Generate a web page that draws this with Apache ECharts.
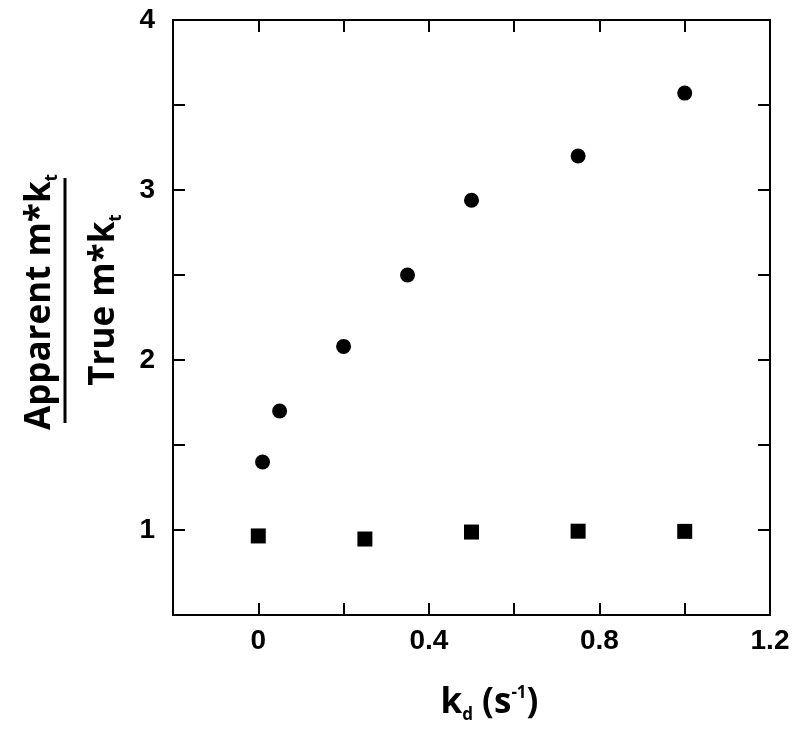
<!DOCTYPE html>
<html>
<head>
<meta charset="utf-8">
<script src="https://cdn.jsdelivr.net/npm/echarts@6/dist/echarts.min.js"></script>
<style>
  html, body { margin: 0; padding: 0; background: #fff; }
  #main { width: 800px; height: 740px; }
</style>
</head>
<body>
<div id="main"></div>
<script>
// apparent / true ratio, circles
const circleKd = [0.01, 0.05, 0.2, 0.35, 0.5, 0.75, 1.0];
const circleRatio = [1.40, 1.70, 2.08, 2.50, 2.94, 3.20, 3.57];
// squares
const squareKd = [0, 0.25, 0.5, 0.75, 1.0];
const squareRatio = [0.965, 0.947, 0.988, 0.993, 0.992];

const xTickLabels = [0, 0.4, 0.8, 1.2];
const yTickLabels = [1, 2, 3, 4];

const tickFont = '"Liberation Sans", Arial, sans-serif';
const titleFont = '"Open Sans", "Noto Sans", sans-serif';

function pick(list) {
  return function (v) {
    for (let i = 0; i < list.length; i++) {
      if (Math.abs(v - list[i]) < 1e-6) return String(list[i]);
    }
    return '';
  };
}

const chart = echarts.init(document.getElementById('main'), null, { renderer: 'canvas' });

const lineStyle = { color: '#000', width: 2 };
const tickStyle = { show: true, inside: true, length: 12, lineStyle: { color: '#000', width: 2 } };

const option = {
  backgroundColor: '#fff',
  animation: false,
  grid: { left: 173, right: 30, top: 20, bottom: 125 },
  xAxis: [{
    type: 'value',
    min: -0.2, max: 1.2, interval: 0.2,
    axisLine: { onZero: false, lineStyle: lineStyle },
    axisTick: tickStyle,
    splitLine: { show: false },
    axisLabel: {
      formatter: pick(xTickLabels),
      color: '#000', fontSize: 28, fontWeight: 'bold', fontFamily: tickFont, margin: 12
    },
    name: '{b|k}{sub|d}{b| (s}{sup|-1}{b|)}',
    nameLocation: 'middle',
    nameGap: 68,
    nameTextStyle: {
      padding: [0, 0, 0, 36],
      rich: {
        b: { fontSize: 35, fontWeight: 'bold', fontFamily: titleFont, color: '#000' },
        sub: { fontSize: 17, fontWeight: 'bold', fontFamily: titleFont, color: '#000', padding: [24, 0, 0, 0] },
        sup: { fontSize: 17, fontWeight: 'bold', fontFamily: titleFont, color: '#000', padding: [0, 0, 20, 0] }
      }
    }
  }, {
    type: 'value', position: 'top',
    min: -0.2, max: 1.2, interval: 0.2,
    axisLine: { onZero: false, lineStyle: lineStyle },
    axisTick: tickStyle,
    axisLabel: { show: false },
    splitLine: { show: false }
  }],
  yAxis: [{
    type: 'value',
    min: 0.5, max: 4, interval: 0.5,
    axisLine: { onZero: false, lineStyle: lineStyle },
    axisTick: tickStyle,
    splitLine: { show: false },
    axisLabel: {
      formatter: pick(yTickLabels),
      color: '#000', fontSize: 28, fontWeight: 'bold', fontFamily: tickFont, margin: 18
    }
  }, {
    type: 'value', position: 'right',
    min: 0.5, max: 4, interval: 0.5,
    axisLine: { onZero: false, lineStyle: lineStyle },
    axisTick: tickStyle,
    axisLabel: { show: false },
    splitLine: { show: false }
  }],
  graphic: [{
    type: 'text',
    x: 40, y: 302,
    rotation: Math.PI / 2,
    style: {
      text: '{b|Apparent m*k}{s|t}',
      textAlign: 'center',
      textVerticalAlign: 'middle',
      rich: {
        b: { fontSize: 35, fontWeight: 'bold', fontFamily: titleFont, fill: '#000' },
        s: { fontSize: 17, fontWeight: 'bold', fontFamily: titleFont, fill: '#000', padding: [24, 0, 0, 0] }
      }
    }
  }, {
    type: 'line',
    shape: { x1: 65, y1: 178, x2: 65, y2: 423 },
    style: { stroke: '#000', lineWidth: 3 }
  }, {
    type: 'text',
    x: 104, y: 300,
    rotation: Math.PI / 2,
    style: {
      text: '{b|True m*k}{s|t}',
      textAlign: 'center',
      textVerticalAlign: 'middle',
      rich: {
        b: { fontSize: 35, fontWeight: 'bold', fontFamily: titleFont, fill: '#000' },
        s: { fontSize: 17, fontWeight: 'bold', fontFamily: titleFont, fill: '#000', padding: [24, 0, 0, 0] }
      }
    }
  }],
  series: [{
    name: 'circles',
    type: 'scatter',
    symbol: 'circle',
    symbolSize: 15,
    itemStyle: { color: '#000', opacity: 1 },
    data: circleKd.map((x, i) => [x, circleRatio[i]])
  }, {
    name: 'squares',
    type: 'scatter',
    symbol: 'rect',
    symbolSize: 15,
    itemStyle: { color: '#000', opacity: 1 },
    data: squareKd.map((x, i) => [x, squareRatio[i]])
  }]
};

chart.setOption(option);
</script>
</body>
</html>
